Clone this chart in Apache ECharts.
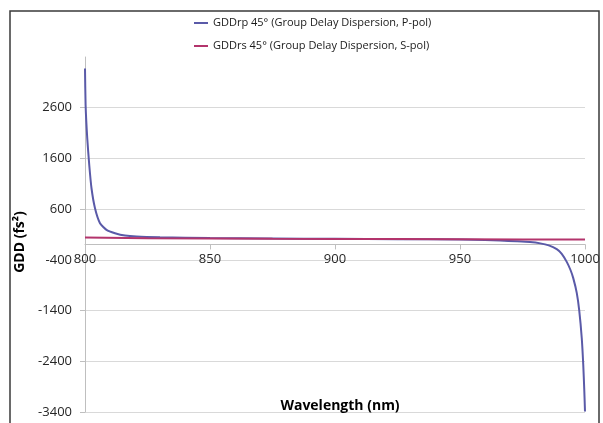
<!DOCTYPE html>
<html>
<head>
<meta charset="utf-8">
<script src="https://cdn.jsdelivr.net/npm/echarts@6/dist/echarts.min.js"></script>
<style>
html,body{margin:0;padding:0;background:#fff;}
#chart{width:603px;height:423px;}
</style>
</head>
<body>
<div id="chart"></div>
<script>
// Data
const seriesNames = [
  'GDDrp 45° (Group Delay Dispersion, P-pol)',
  'GDDrs 45° (Group Delay Dispersion, S-pol)'
];
const pWavelength = [800.0, 800.24, 800.9, 801.7, 802.6, 804.0, 806.0, 808.6, 812.0, 816.0, 820.6, 830, 850, 875, 900, 925, 950, 960, 966, 972.7, 978, 982.1, 985.5, 988.7, 990.7, 992.7, 994.2, 995.3, 996.7, 997.7, 998.7, 999.3, 999.7, 1000];
const pGDD = [3374, 2652, 1996, 1470, 1012, 618, 323, 191, 126, 79, 59, 45, 30, 22, 15, 8, 0, -10, -20, -35, -50, -75, -115, -190, -280, -440, -600, -760, -1050, -1400, -1941, -2467, -2950, -3390];
const sWavelength = [800, 825, 850, 875, 900, 925, 950, 975, 1000];
const sGDD = [40, 28, 20, 15, 12, 9, 6, 3, 0];
const xTicks = [800, 850, 900, 950, 1000];
const yTicks = [-3400, -2400, -1400, -400, 600, 1600, 2600];
const xTitle = 'Wavelength (nm)';
const yTitle = 'GDD (fs²)';

const pData = pWavelength.map((w, i) => [w, pGDD[i]]);
const sData = sWavelength.map((w, i) => [w, sGDD[i]]);

const FONT = '"Open Sans", "Liberation Sans", sans-serif';
const chart = echarts.init(document.getElementById('chart'), null, {renderer: 'canvas'});
const option = {
  animation: false,
  backgroundColor: '#ffffff',
  grid: {left: 85, right: 18, top: 57, bottom: 11, containLabel: false},
  legend: {
    orient: 'vertical',
    left: 194,
    top: 16,
    padding: 0,
    itemWidth: 14,
    itemHeight: 2,
    itemGap: 9,
    icon: 'rect',
    textStyle: {fontFamily: FONT, fontSize: 11, lineHeight: 14, color: '#1a1a1a'},
    data: seriesNames
  },
  xAxis: {
    type: 'value',
    min: 800,
    max: 1000,
    interval: 50,
    offset: 0,
    axisLine: {show: true, onZero: false, lineStyle: {color: '#bfbfbf', width: 1}},
    axisTick: {show: true, inside: false, length: 5, lineStyle: {color: '#bfbfbf'}},
    axisLabel: {
      margin: 8,
      fontFamily: FONT, fontSize: 13, color: '#262626',
      customValues: xTicks,
      formatter: v => String(v)
    },
    splitLine: {show: false}
  },
  yAxis: {
    type: 'value',
    min: -3400,
    max: 3600,
    axisLine: {show: true, lineStyle: {color: '#bfbfbf', width: 1}},
    axisTick: {show: true, length: 5, customValues: yTicks, lineStyle: {color: '#bfbfbf'}},
    axisLabel: {
      margin: 13,
      fontFamily: FONT, fontSize: 13, color: '#262626',
      customValues: yTicks,
      formatter: v => String(v)
    },
    splitLine: {show: true, lineStyle: {color: '#d9d9d9', width: 1}}
  },
  graphic: [
    {type: 'rect', shape: {x: 10, y: 11, width: 589, height: 430}, style: {fill: 'none', stroke: '#3a3a3a', lineWidth: 1.5}, silent: true, z: 100},
    {type: 'text', x: 20, y: 242, rotation: Math.PI / 2, style: {text: yTitle, fontFamily: FONT, fontWeight: 'bold', fontSize: 14, fill: '#000', align: 'center', verticalAlign: 'middle'}, z: 100},
    {type: 'text', x: 340, y: 406, style: {text: xTitle, fontFamily: FONT, fontWeight: 'bold', fontSize: 14, fill: '#000', align: 'center', verticalAlign: 'middle'}, z: 100}
  ],
  series: [
    {name: seriesNames[0], type: 'line', data: pData, showSymbol: false, smooth: 0.2, lineStyle: {color: '#5a5aa8', width: 2}, itemStyle: {color: '#5a5aa8'}, z: 3},
    {name: seriesNames[1], type: 'line', data: sData, showSymbol: false, smooth: false, lineStyle: {color: '#b3346c', width: 2}, itemStyle: {color: '#b3346c'}, z: 4}
  ]
};
chart.setOption(option);
// Place the x axis (line, ticks, labels) where y = 0, as in the reference
const zeroPx = chart.convertToPixel({yAxisIndex: 0}, 0);
const bottomPx = chart.convertToPixel({yAxisIndex: 0}, -3400);
chart.setOption({xAxis: {offset: -(bottomPx - zeroPx)}});
</script>
</body>
</html>
